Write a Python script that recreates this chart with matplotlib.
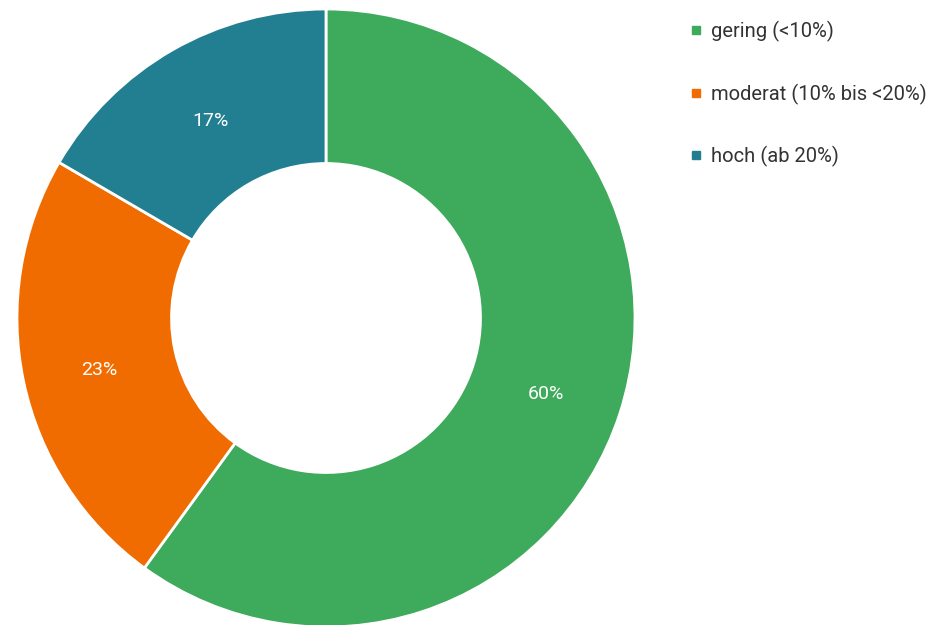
import matplotlib.pyplot as plt
import matplotlib.transforms as mtransforms
from matplotlib.lines import Line2D

plt.rcParams['font.family'] = ['Roboto', 'DejaVu Sans']

kategorien = ['gering (<10%)', 'moderat (10% bis <20%)', 'hoch (ab 20%)']
anteile = [60.0, 23.4, 16.6]
farben = ['#3daa5c', '#f06c00', '#217f91']

W, H = 935, 625
fig = plt.figure(figsize=(W / 100, H / 100), dpi=100)

# Donut: Mitte ca. (326, 318) px, Radius ca. 309 px
cx, cy, r = 326, 318, 309
ax = fig.add_axes([(cx - r) / W, (H - cy - r) / H, 2 * r / W, 2 * r / H])

wedges, texts, autotexts = ax.pie(
    anteile, colors=farben, startangle=90, counterclock=False,
    autopct='%.0f%%', pctdistance=0.75, radius=1,
    wedgeprops=dict(width=0.5, edgecolor='white', linewidth=2),
    textprops=dict(color='white', fontsize=14))
# Beschriftungen etwas tiefer setzen (wie im Original)
for t in autotexts:
    t.set_transform(mtransforms.offset_copy(ax.transData, fig=fig, x=0, y=-4, units='dots'))
ax.set_xlim(-1, 1)
ax.set_ylim(-1, 1)
ax.set_aspect('equal')
ax.axis('off')

handles = [Line2D([], [], marker='s', linestyle='none', markersize=6,
                  markerfacecolor=c, markeredgecolor=c) for c in farben]
fig.legend(handles, kategorien, loc='upper left',
           bbox_to_anchor=(680 / W, 1 - 11 / H), frameon=False,
           fontsize=14.5, handlelength=0.6, handletextpad=0.45,
           labelspacing=2.05, borderpad=0, labelcolor='#333333')

fig.savefig('out.png', dpi=100)
